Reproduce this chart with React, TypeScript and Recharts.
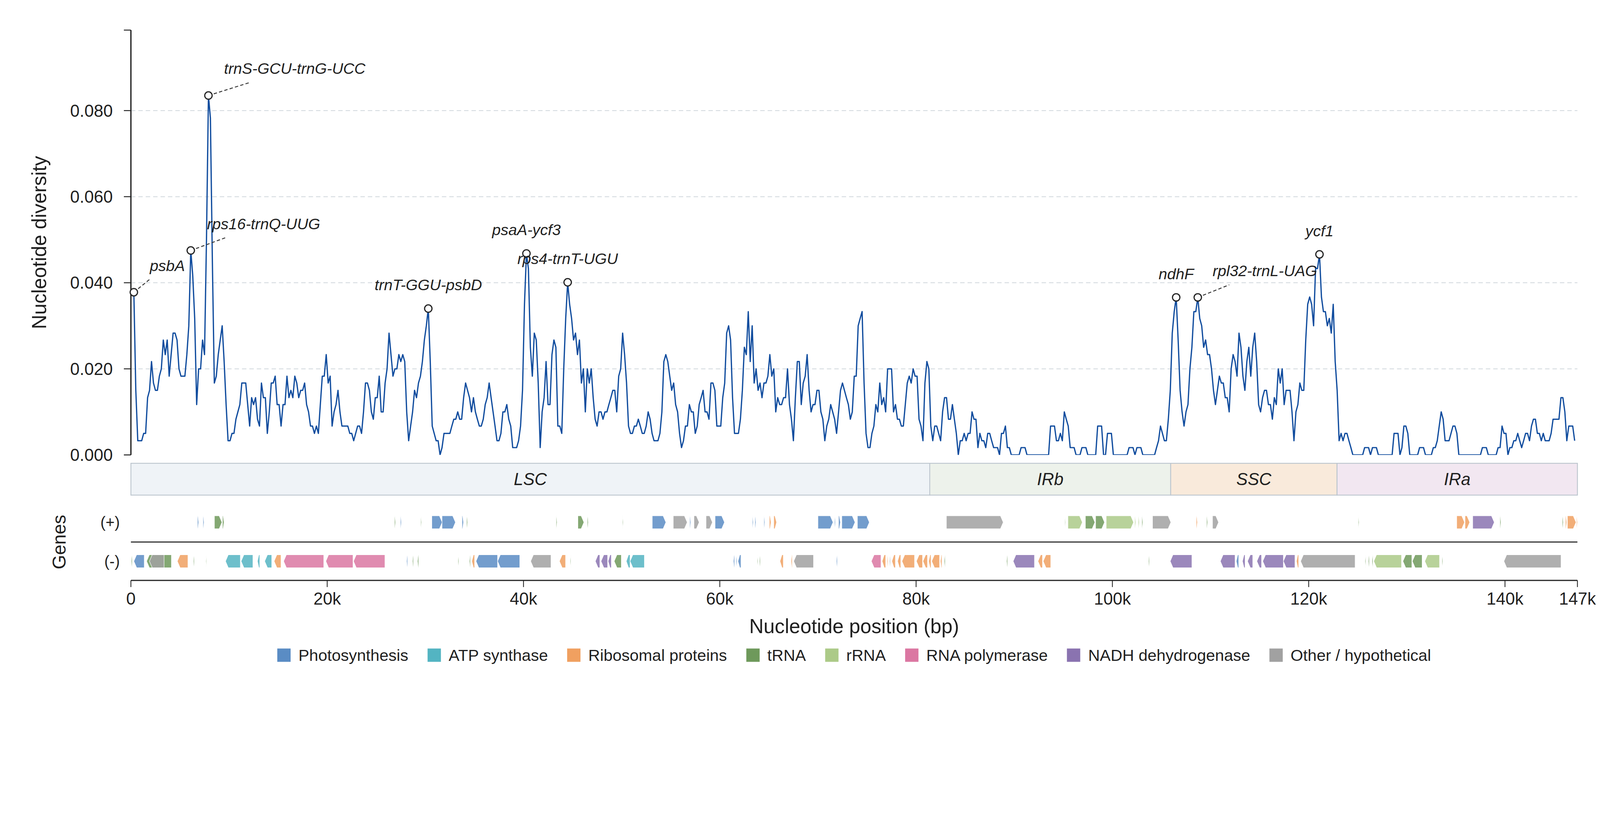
import React from "react";
import {
  ComposedChart,
  Line,
  Scatter,
  XAxis,
  YAxis,
  CartesianGrid,
  ReferenceArea,
  ReferenceLine,
} from "recharts";

const FONT = '"Liberation Sans", Arial, Helvetica, sans-serif';
const INK = "#1f1f1f";

// sliding window analysis: window midpoints start at 300 bp, step 200 bp
const GENOME_LENGTH = 147380;
const FIRST_WINDOW_MID = 300;
const WINDOW_STEP = 200;

const nucleotideDiversity = [
  0.0378, 0.015, 0.0033, 0.0033, 0.0033, 0.005, 0.005, 0.0133, 0.015, 0.0217, 0.0167, 0.015, 0.015, 0.0183, 0.02, 0.0267, 0.0233, 0.0267, 0.0183, 0.0233,
  0.0283, 0.0283, 0.0267, 0.02, 0.0183, 0.0183, 0.0183, 0.0233, 0.03, 0.0475, 0.0417, 0.0317, 0.0117, 0.02, 0.02, 0.0267, 0.0233, 0.05, 0.0835, 0.0783,
  0.045, 0.0167, 0.0183, 0.0233, 0.0267, 0.03, 0.0217, 0.0117, 0.0033, 0.0033, 0.005, 0.005, 0.0083, 0.01, 0.0117, 0.0167, 0.0167, 0.0167, 0.0117, 0.0067,
  0.0133, 0.0117, 0.0133, 0.0083, 0.0067, 0.0167, 0.0133, 0.0133, 0.005, 0.01, 0.0167, 0.0167, 0.0183, 0.0117, 0.0117, 0.0067, 0.0117, 0.0117, 0.0183, 0.0133,
  0.015, 0.0133, 0.0183, 0.0167, 0.0133, 0.015, 0.015, 0.0167, 0.0117, 0.01, 0.0067, 0.0067, 0.005, 0.0067, 0.005, 0.0117, 0.0183, 0.0183, 0.0233, 0.0167,
  0.0183, 0.0067, 0.01, 0.0117, 0.015, 0.01, 0.0067, 0.0067, 0.0067, 0.0067, 0.005, 0.005, 0.0033, 0.005, 0.0067, 0.0067, 0.005, 0.01, 0.0167, 0.0167,
  0.015, 0.01, 0.0083, 0.0133, 0.0133, 0.0183, 0.01, 0.01, 0.0167, 0.02, 0.0283, 0.0233, 0.0183, 0.02, 0.02, 0.0233, 0.0217, 0.0233, 0.0217, 0.01,
  0.0033, 0.0067, 0.01, 0.015, 0.0133, 0.0167, 0.0183, 0.0217, 0.0267, 0.03, 0.034, 0.0217, 0.0067, 0.005, 0.0033, 0.0033, 0, 0.0017, 0.005, 0.005,
  0.005, 0.005, 0.0067, 0.0083, 0.0083, 0.01, 0.0083, 0.0083, 0.0133, 0.0167, 0.015, 0.0133, 0.01, 0.0133, 0.01, 0.0083, 0.0067, 0.0067, 0.0083, 0.0117,
  0.0133, 0.0167, 0.0133, 0.01, 0.0067, 0.0033, 0.0033, 0.005, 0.01, 0.01, 0.0117, 0.0083, 0.0067, 0.0017, 0.0017, 0.0017, 0.0033, 0.0067, 0.015, 0.035,
  0.0468, 0.0433, 0.025, 0.0183, 0.0283, 0.0267, 0.0167, 0.0017, 0.01, 0.0133, 0.0217, 0.0117, 0.0117, 0.0233, 0.0267, 0.025, 0.0067, 0.0067, 0.005, 0.02,
  0.0317, 0.0401, 0.035, 0.0317, 0.0267, 0.0283, 0.0233, 0.0267, 0.0167, 0.02, 0.01, 0.02, 0.0167, 0.02, 0.0133, 0.0083, 0.0067, 0.01, 0.01, 0.0083,
  0.01, 0.01, 0.0117, 0.0133, 0.015, 0.015, 0.01, 0.0183, 0.02, 0.0283, 0.0233, 0.0167, 0.0067, 0.005, 0.005, 0.0067, 0.0067, 0.0083, 0.0067, 0.005,
  0.005, 0.0067, 0.01, 0.0083, 0.005, 0.0033, 0.0033, 0.0033, 0.005, 0.01, 0.0217, 0.0233, 0.0217, 0.0183, 0.015, 0.0167, 0.0117, 0.01, 0.005, 0.0017,
  0.0033, 0.0067, 0.0067, 0.0117, 0.01, 0.01, 0.005, 0.0067, 0.0117, 0.0133, 0.015, 0.01, 0.01, 0.0083, 0.0167, 0.0167, 0.015, 0.0067, 0.0067, 0.0067,
  0.0133, 0.0167, 0.0283, 0.03, 0.0267, 0.0133, 0.005, 0.005, 0.005, 0.0083, 0.015, 0.025, 0.0233, 0.0333, 0.0217, 0.03, 0.0167, 0.02, 0.015, 0.0167,
  0.0133, 0.0167, 0.0167, 0.0183, 0.0233, 0.0183, 0.02, 0.01, 0.0133, 0.0117, 0.0117, 0.0133, 0.0133, 0.02, 0.0117, 0.0083, 0.0033, 0.0133, 0.0217, 0.0217,
  0.0117, 0.0167, 0.0183, 0.0233, 0.015, 0.01, 0.0117, 0.0117, 0.015, 0.015, 0.01, 0.0083, 0.0033, 0.0067, 0.0083, 0.0117, 0.01, 0.0083, 0.005, 0.01,
  0.015, 0.0167, 0.015, 0.0133, 0.0117, 0.0083, 0.01, 0.0183, 0.0183, 0.03, 0.0317, 0.0333, 0.0167, 0.005, 0.0017, 0.0017, 0.005, 0.0067, 0.0117, 0.01,
  0.0167, 0.0117, 0.0133, 0.01, 0.02, 0.02, 0.02, 0.01, 0.0117, 0.0083, 0.0083, 0.0067, 0.0067, 0.0117, 0.0167, 0.0183, 0.0167, 0.02, 0.0183, 0.0183,
  0.0083, 0.0067, 0.0033, 0.0167, 0.0217, 0.02, 0.0067, 0.0033, 0.0067, 0.0067, 0.005, 0.0033, 0.01, 0.0133, 0.0133, 0.0083, 0.0083, 0.0117, 0.0083, 0.005,
  0, 0.0033, 0.0033, 0.005, 0.0033, 0.005, 0.005, 0.01, 0.0083, 0.0083, 0.0017, 0.005, 0.0033, 0.0033, 0.0017, 0.005, 0.005, 0.0033, 0.0017, 0.0017,
  0.0017, 0, 0.005, 0.005, 0.0067, 0.0017, 0.0017, 0, 0, 0, 0, 0, 0.0017, 0.0017, 0.0017, 0, 0, 0, 0, 0,
  0, 0, 0, 0, 0, 0, 0, 0.0067, 0.0067, 0.0067, 0.0033, 0.0033, 0.005, 0.0033, 0.01, 0.0083, 0.0067, 0.0017, 0.0017, 0.0017,
  0, 0, 0, 0.0017, 0.0017, 0.0017, 0, 0, 0, 0, 0, 0.0067, 0.0067, 0.0067, 0, 0, 0.005, 0.005, 0.005, 0,
  0, 0, 0, 0, 0, 0, 0, 0.0017, 0.0017, 0.0017, 0, 0.0017, 0.0017, 0.0017, 0, 0, 0, 0, 0, 0,
  0, 0.0017, 0.0033, 0.0067, 0.005, 0.0033, 0.0033, 0.0083, 0.015, 0.0283, 0.0333, 0.0366, 0.0267, 0.015, 0.01, 0.0067, 0.01, 0.0117, 0.02, 0.025,
  0.0333, 0.0333, 0.0366, 0.0317, 0.03, 0.025, 0.0267, 0.0233, 0.0233, 0.02, 0.015, 0.0117, 0.015, 0.0183, 0.0167, 0.0167, 0.0133, 0.0133, 0.01, 0.02,
  0.0233, 0.0217, 0.0183, 0.0283, 0.025, 0.0183, 0.015, 0.0217, 0.025, 0.0183, 0.025, 0.0283, 0.0217, 0.0117, 0.01, 0.0133, 0.015, 0.015, 0.0117, 0.0117,
  0.0083, 0.0133, 0.0117, 0.02, 0.0167, 0.02, 0.0117, 0.015, 0.015, 0.015, 0.01, 0.0033, 0.01, 0.0117, 0.0167, 0.015, 0.015, 0.0267, 0.035, 0.0367,
  0.035, 0.03, 0.0433, 0.0433, 0.0466, 0.0367, 0.0333, 0.0333, 0.03, 0.0317, 0.0283, 0.035, 0.0217, 0.015, 0.0033, 0.005, 0.0033, 0.005, 0.005, 0.0033,
  0.0017, 0, 0, 0, 0, 0, 0, 0.0017, 0.0017, 0.0017, 0, 0.0017, 0.0017, 0.0017, 0, 0, 0, 0, 0, 0,
  0, 0, 0.005, 0.005, 0.005, 0, 0.0017, 0.0067, 0.0067, 0.005, 0, 0, 0, 0, 0, 0.0017, 0.0017, 0.0017, 0, 0,
  0, 0, 0.0017, 0.0017, 0.0033, 0.0067, 0.01, 0.0083, 0.0033, 0.0033, 0.0033, 0.005, 0.0067, 0.0067, 0.005, 0, 0, 0, 0, 0,
  0, 0, 0, 0, 0, 0, 0, 0.0017, 0.0017, 0.0017, 0, 0, 0, 0, 0, 0.0017, 0.0017, 0.0067, 0.005, 0.005,
  0, 0.0017, 0.0017, 0.0033, 0.0033, 0.005, 0.0033, 0.0017, 0.0033, 0.005, 0.005, 0.0033, 0.0067, 0.0083, 0.0083, 0.005, 0.005, 0.0033, 0.005, 0.0033,
  0.0033, 0.0033, 0.005, 0.0083, 0.0083, 0.0083, 0.0083, 0.0133, 0.0133, 0.01, 0.0033, 0.0067, 0.0067, 0.0067, 0.0033,
];

const DIVERSITY_MAX = 0.0987;
const diversityTicks = [0, 0.02, 0.04, 0.06, 0.08, DIVERSITY_MAX];
const diversityGridValues = [0.02, 0.04, 0.06, 0.08];
const positionTicks = [0, 20000, 40000, 60000, 80000, 100000, 120000, 140000, GENOME_LENGTH];

// divergence hotspots
const hotspotNames = [
  "psbA", "rps16-trnQ-UUG", "trnS-GCU-trnG-UCC", "trnT-GGU-psbD", "psaA-ycf3",
  "rps4-trnT-UGU", "ndhF", "rpl32-trnL-UAG", "ycf1",
];
const hotspotPositions = [300, 6100, 7900, 30300, 40300, 44500, 106500, 108700, 121100];
const hotspotValues = [0.0378, 0.0475, 0.0835, 0.034, 0.0468, 0.0401, 0.0366, 0.0366, 0.0466];

// quadripartite regions
const regionNames = ["LSC", "IRb", "SSC", "IRa"];
const regionBounds = [0, 81390, 105940, 122890, GENOME_LENGTH];
const regionFills = ["#eff3f7", "#edf2eb", "#f9eadb", "#f2e7f1"];

// gene functional categories
const categoryKeys = ["photo", "atp", "ribo", "trna", "rrna", "rnap", "ndh", "other"];
const categoryLabels = [
  "Photosynthesis", "ATP synthase", "Ribosomal proteins", "tRNA", "rRNA",
  "RNA polymerase", "NADH dehydrogenase", "Other / hypothetical",
];
const categoryColors = ["#5a8cc4", "#53b4c2", "#f0a060", "#6e995b", "#acca88", "#db77a2", "#8a73b0", "#a1a1a1"];

// [start, end, category]
const plusStrandGenes: [number, number, string][] = [
  [6780, 6900, "photo"], [7350, 7450, "photo"], [8510, 9280, "trna"], [9330, 9490, "trna"],
  [26860, 26960, "trna"], [27460, 27560, "photo"], [29530, 29610, "trna"], [30660, 31720, "photo"],
  [31700, 33070, "photo"], [33740, 33890, "photo"], [34200, 34300, "trna"], [43330, 43420, "trna"],
  [45540, 46160, "trna"], [46500, 46600, "trna"], [50090, 50160, "trna"], [53120, 54510, "photo"],
  [55260, 56680, "other"], [56940, 57040, "photo"], [57370, 57900, "other"], [58600, 59250, "other"],
  [59520, 60480, "photo"], [63320, 63410, "photo"], [63580, 63680, "photo"], [64500, 64590, "photo"],
  [65050, 65220, "ribo"], [65500, 65790, "ribo"], [70000, 71540, "photo"], [71690, 71780, "photo"],
  [72100, 72290, "photo"], [72430, 73780, "photo"], [74020, 75240, "photo"], [83090, 88880, "other"],
  [95160, 95230, "trna"], [95470, 96940, "rrna"], [97250, 98220, "trna"], [98290, 99200, "trna"],
  [99370, 102160, "rrna"], [102280, 102380, "rrna"], [102640, 102740, "rrna"], [103000, 103100, "trna"],
  [104090, 105960, "other"], [108540, 108660, "ribo"], [109600, 109700, "trna"], [110200, 110820, "other"],
  [125050, 125130, "trna"], [135080, 135880, "ribo"], [135930, 136410, "ribo"], [136710, 138910, "ndh"],
  [139490, 139590, "trna"], [145840, 145940, "trna"], [146160, 146290, "ribo"], [146360, 147240, "ribo"],
  [147290, 147380, "ribo"],
];

const minusStrandGenes: [number, number, string][] = [
  [40, 140, "trna"], [300, 1360, "photo"], [1600, 4130, "trna"], [1890, 3380, "other"],
  [4730, 5810, "ribo"], [6370, 6460, "trna"], [7640, 7710, "trna"], [9640, 11150, "atp"],
  [11230, 12430, "atp"], [12890, 13130, "atp"], [13630, 14350, "atp"], [14590, 15290, "ribo"],
  [15560, 19650, "rnap"], [19860, 22630, "rnap"], [22680, 25880, "rnap"], [28090, 28190, "photo"],
  [28690, 28790, "trna"], [29200, 29320, "trna"], [33330, 33410, "trna"], [34490, 34590, "trna"],
  [34730, 35020, "ribo"], [35160, 37360, "photo"], [37360, 39620, "photo"], [40730, 42800, "other"],
  [43660, 44290, "ribo"], [44750, 44820, "trna"], [47320, 47780, "ndh"], [47900, 48570, "ndh"],
  [48620, 48950, "ndh"], [49240, 49970, "trna"], [50470, 50860, "atp"], [50860, 52320, "atp"],
  [61390, 61510, "photo"], [61660, 61750, "photo"], [61850, 62160, "photo"], [63820, 63890, "trna"],
  [64040, 64130, "trna"], [66130, 66470, "ribo"], [67260, 67380, "ribo"], [67530, 69550, "other"],
  [71880, 71980, "photo"], [75440, 76420, "rnap"], [76540, 76900, "ribo"], [77050, 77140, "ribo"],
  [77290, 77380, "other"], [77530, 77890, "ribo"], [78110, 78440, "ribo"], [78560, 79840, "ribo"],
  [80030, 80660, "ribo"], [80700, 81160, "ribo"], [81280, 81520, "ribo"], [81590, 82390, "ribo"],
  [82480, 82630, "ribo"], [82870, 82970, "trna"], [89220, 89320, "trna"], [89890, 92060, "ndh"],
  [92420, 92880, "ribo"], [92950, 93720, "ribo"], [103680, 103770, "trna"], [105890, 108100, "ndh"],
  [111000, 112500, "ndh"], [112620, 112870, "photo"], [113250, 113520, "ndh"], [113770, 114300, "ndh"],
  [114720, 115200, "ndh"], [115320, 117420, "ndh"], [117420, 118600, "ndh"], [118750, 118980, "ribo"],
  [119180, 124730, "other"], [125750, 125830, "trna"], [126080, 126180, "trna"], [126450, 126550, "trna"],
  [126630, 129460, "rrna"], [129600, 130510, "trna"], [130560, 131560, "trna"], [131830, 133330, "rrna"],
  [133580, 133660, "trna"], [139890, 145710, "other"],
];

// ---- layout / style (not data) ----
const WIDTH = 4322;
const HEIGHT = 2102;
const PLOT_LEFT = 353.6;
const PLOT_RIGHT_GAP = 61;
// track bands in the gene chart (0 = x axis, 100 = top of region bar)
const TRACK = { region: [72.8, 100], plus: [44.1, 55.1], divider: 32.75, minus: [10.85, 21.9] };

const labelLayout: Record<string, { leader: [number, number]; text: [number, number] }> = {
  psbA: { leader: [43, -35], text: [43, -72] },
  "rps16-trnQ-UUG": { leader: [95, -35], text: [44, -72] },
  "trnS-GCU-trnG-UCC": { leader: [111, -35], text: [42, -73] },
  "rpl32-trnL-UAG": { leader: [85, -34], text: [40, -72] },
};

const lineData = nucleotideDiversity.map((pi, i) => ({ pos: FIRST_WINDOW_MID + i * WINDOW_STEP, pi }));
const hotspots = hotspotNames.map((name, i) => ({ name, pos: hotspotPositions[i], pi: hotspotValues[i] }));
const colorOf = (cat: string) => categoryColors[categoryKeys.indexOf(cat)];

const formatPosition = (v: number) => (v === 0 ? "0" : `${Math.round(v / 1000)}k`);

const HotspotMarker = (props: any) => {
  const { cx, cy, payload } = props;
  if (cx == null || cy == null) return null;
  const lay = labelLayout[payload.name];
  return (
    <g>
      {lay && (
        <line
          x1={cx}
          y1={cy}
          x2={cx + lay.leader[0]}
          y2={cy + lay.leader[1]}
          stroke="#3a3a3a"
          strokeWidth={2.6}
          strokeDasharray="9 6"
        />
      )}
      <circle cx={cx} cy={cy} r={10} fill="#fff" stroke="#262626" strokeWidth={3.2} />
      <text
        x={lay ? cx + lay.text[0] : cx}
        y={cy + (lay ? lay.text[1] : -64)}
        textAnchor={lay ? "start" : "middle"}
        dominantBaseline="central"
        fontSize={41.7}
        fontStyle="italic"
        fontFamily={FONT}
        fill={INK}
      >
        {payload.name}
      </text>
    </g>
  );
};

const geneShape = (strand: "+" | "-", color: string) => (props: any) => {
  const { x, y, width, height } = props;
  if (x == null || width == null) return null;
  const head = Math.min(7.5, width * 0.6);
  const mid = y + height / 2;
  const pts =
    strand === "+"
      ? [[x, y], [x + width - head, y], [x + width, mid], [x + width - head, y + height], [x, y + height]]
      : [[x + head, y], [x + width, y], [x + width, y + height], [x + head, y + height], [x, mid]];
  return (
    <polygon
      points={pts.map((p) => p.join(",")).join(" ")}
      fill={color}
      fillOpacity={0.85}
      stroke="#ffffff"
      strokeWidth={1.2}
    />
  );
};

const DiversityAxisTitle = (props: any) => {
  const vb = props.viewBox || { x: 0, y: 0, height: 0 };
  const cx = vb.x + 106;
  const cy = vb.y + vb.height / 2;
  return (
    <text
      x={cx}
      y={cy}
      transform={`rotate(-90, ${cx}, ${cy})`}
      textAnchor="middle"
      dominantBaseline="central"
      fontSize={54}
      fontFamily={FONT}
      fill={INK}
    >
      Nucleotide diversity
    </text>
  );
};

const PositionAxisTitle = (props: any) => {
  const vb = props.viewBox || { x: 0, y: 0, width: 0 };
  return (
    <text
      x={vb.x + vb.width / 2}
      y={vb.y + 142}
      textAnchor="middle"
      fontSize={54}
      fontFamily={FONT}
      fill={INK}
    >
      Nucleotide position (bp)
    </text>
  );
};

const GenesTitle = (props: any) => {
  const vb = props.viewBox || { x: 0, y: 0 };
  const cx = vb.x - 193.6;
  const cy = vb.y;
  return (
    <text
      x={cx}
      y={cy}
      transform={`rotate(-90, ${cx}, ${cy})`}
      textAnchor="middle"
      dominantBaseline="central"
      fontSize={50}
      fontFamily={FONT}
      fill={INK}
    >
      Genes
    </text>
  );
};

const DiversityChart = () => (
  <ComposedChart
    width={WIDTH}
    height={1270}
    data={lineData}
    margin={{ top: 81.3, right: PLOT_RIGHT_GAP, bottom: 41, left: 0 }}
  >
    <CartesianGrid
      vertical={false}
      horizontalValues={diversityGridValues}
      stroke="#d5dbe0"
      strokeDasharray="12 8"
      strokeWidth={2.4}
    />
    <XAxis
      type="number"
      dataKey="pos"
      domain={[0, GENOME_LENGTH]}
      height={0}
      tick={false}
      tickLine={false}
      axisLine={{ stroke: "#222", strokeWidth: 3.5 }}
    />
    <YAxis
      type="number"
      domain={[0, DIVERSITY_MAX]}
      allowDataOverflow
      ticks={diversityTicks}
      interval={0}
      width={PLOT_LEFT}
      tickFormatter={(v: number) => (v > 0.09 ? "" : v.toFixed(3))}
      tick={{ fontSize: 46, fill: INK, fontFamily: FONT }}
      tickSize={19}
      tickMargin={30}
      axisLine={{ stroke: "#222", strokeWidth: 3.5 }}
      tickLine={{ stroke: "#222", strokeWidth: 2.5 }}
      label={DiversityAxisTitle}
    />
    <Line
      type="linear"
      dataKey="pi"
      stroke="#104c9e"
      strokeWidth={3.4}
      strokeLinejoin="round"
      dot={false}
      activeDot={false}
      isAnimationActive={false}
    />
    <Scatter data={hotspots} dataKey="pi" shape={HotspotMarker} isAnimationActive={false} />
  </ComposedChart>
);

const GeneChart = () => (
  <ComposedChart width={WIDTH} height={488} margin={{ top: 11.5, right: PLOT_RIGHT_GAP, bottom: 0, left: 0 }}>
    <XAxis
      type="number"
      dataKey="pos"
      domain={[0, GENOME_LENGTH]}
      ticks={positionTicks}
      interval={0}
      allowDataOverflow
      tickFormatter={formatPosition}
      height={160}
      tickSize={18}
      tickMargin={14.5}
      tick={{ fontSize: 46, fill: INK, fontFamily: FONT }}
      axisLine={{ stroke: "#222", strokeWidth: 3.2 }}
      tickLine={{ stroke: "#222", strokeWidth: 2.2 }}
      label={PositionAxisTitle}
    />
    <YAxis
      type="number"
      domain={[0, 100]}
      allowDataOverflow
      ticks={[(TRACK.plus[0] + TRACK.plus[1]) / 2, (TRACK.minus[0] + TRACK.minus[1]) / 2]}
      interval={0}
      width={PLOT_LEFT}
      tickFormatter={(v: number) => (v > TRACK.divider ? "(+)" : "(-)")}
      tick={{ fontSize: 42, fill: INK, fontFamily: FONT }}
      axisLine={false}
      tickLine={false}
      tickSize={0}
      tickMargin={30}
    />
    {regionNames.map((name, i) => (
      <ReferenceArea
        key={name}
        x1={regionBounds[i]}
        x2={regionBounds[i + 1]}
        y1={TRACK.region[0]}
        y2={TRACK.region[1]}
        ifOverflow="visible"
        fill={regionFills[i]}
        fillOpacity={1}
        stroke="#bcc5ce"
        strokeWidth={2.4}
        label={{ value: name, position: "center", fontSize: 46, fontStyle: "italic", fill: INK, fontFamily: FONT }}
      />
    ))}
    <ReferenceLine
      y={TRACK.divider}
      ifOverflow="visible"
      stroke="#333"
      strokeWidth={3}
      label={GenesTitle}
    />
    {plusStrandGenes.map(([s, e, cat], i) => (
      <ReferenceArea
        key={`p${i}`}
        x1={s}
        x2={e}
        y1={TRACK.plus[0]}
        y2={TRACK.plus[1]}
        ifOverflow="visible"
        shape={geneShape("+", colorOf(cat))}
      />
    ))}
    {minusStrandGenes.map(([s, e, cat], i) => (
      <ReferenceArea
        key={`m${i}`}
        x1={s}
        x2={e}
        y1={TRACK.minus[0]}
        y2={TRACK.minus[1]}
        ifOverflow="visible"
        shape={geneShape("-", colorOf(cat))}
      />
    ))}
  </ComposedChart>
);

const CategoryLegend = () => (
  <div
    style={{
      position: "absolute",
      top: 1752,
      left: PLOT_LEFT,
      width: WIDTH - PLOT_LEFT - PLOT_RIGHT_GAP,
      height: 36,
      display: "flex",
      justifyContent: "center",
      alignItems: "center",
      gap: 52,
      fontFamily: FONT,
      fontSize: 43.75,
      color: INK,
      whiteSpace: "nowrap",
    }}
  >
    {categoryLabels.map((label, i) => (
      <div key={label} style={{ display: "flex", alignItems: "center" }}>
        <span style={{ width: 36, height: 36, background: categoryColors[i], marginRight: 21, display: "inline-block" }} />
        <span style={{ lineHeight: "36px" }}>{label}</span>
      </div>
    ))}
  </div>
);

// the browser viewport may be narrower than the target picture; fit the figure to it
const fitScale = () =>
  typeof window === "undefined"
    ? 1
    : Math.min(window.innerWidth / WIDTH, window.innerHeight / HEIGHT, 1);

export default function App() {
  const k = fitScale();
  return (
    <div
      style={{
        position: "absolute",
        left: 0,
        top: 0,
        width: WIDTH,
        height: HEIGHT,
        background: "#fff",
        overflow: "hidden",
        fontFamily: FONT,
        transform: `scale(${k})`,
        transformOrigin: "0 0",
      }}
    >
      <div style={{ position: "absolute", left: 0, top: 0 }}>
        <DiversityChart />
      </div>
      <div style={{ position: "absolute", left: 0, top: 1240 }}>
        <GeneChart />
      </div>
      <CategoryLegend />
    </div>
  );
}
